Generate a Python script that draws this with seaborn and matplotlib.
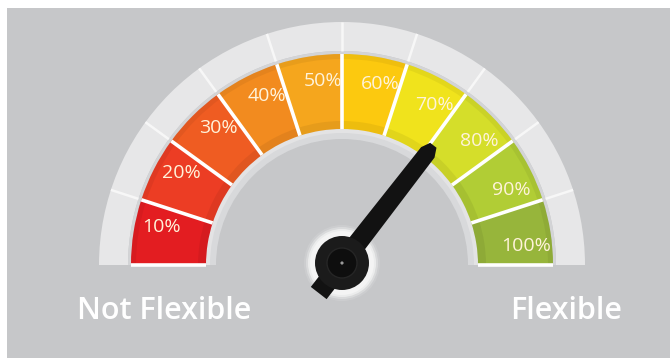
import numpy as np
import matplotlib
matplotlib.use("Agg")
import matplotlib.pyplot as plt
from matplotlib.patches import Wedge, Rectangle, Circle, Polygon
import seaborn as sns

# ---- data ----
categories = ["10%", "20%", "30%", "40%", "50%", "60%", "70%", "80%", "90%", "100%"]
segment_colors = ["#e31d21", "#ec3d24", "#ef5c22", "#f28b1f", "#f5a61d",
                  "#fcc90f", "#f0e31c", "#d5de2a", "#b1cd35", "#97b53b"]
needle_value = 71          # percent
left_label = "Not Flexible"
right_label = "Flexible"

sns.set_theme(style="white")
plt.rcParams['font.family'] = ['Open Sans', 'DejaVu Sans']

W, H = 670, 358
fig = plt.figure(figsize=(W / 100, H / 100), dpi=100)
fig.patch.set_facecolor("white")
ax = fig.add_axes([0, 0, 1, 1])
ax.set_xlim(0, W)
ax.set_ylim(0, H)
ax.axis("off")

# background panel
ax.add_patch(Rectangle((7, 0), W - 7, H - 8, facecolor="#c6c7c9", edgecolor="none", zorder=0))

cx, cy = 342, H - 265
R_out, R_ring_in = 243, 214
R_band_out, R_band_in = 211, 136
R_rim_in = 126

n = len(categories)
step = 180.0 / n

# outer ring
ax.add_patch(Wedge((cx, cy), R_out, 0, 180, width=R_out - R_ring_in,
                   facecolor="#e7e7e8", edgecolor="none", zorder=1))
ax.add_patch(Wedge((cx, cy), R_ring_in, 0, 180, width=R_ring_in - R_band_out,
                   facecolor="#d3d4d6", edgecolor="none", zorder=1))
# inner rim
ax.add_patch(Wedge((cx, cy), R_band_in + 1, 0, 180, width=R_band_in + 1 - R_rim_in,
                   facecolor="#d8d9db", edgecolor="none", zorder=1))
ax.add_patch(Wedge((cx, cy), R_band_in + 1, 0, 180, width=5,
                   facecolor="#e3e3e4", edgecolor="none", zorder=1))

# coloured segments: index 0 on the left (180°) going clockwise
for i, (lab, col) in enumerate(zip(categories, segment_colors)):
    t2 = 180 - i * step
    t1 = t2 - step
    ax.add_patch(Wedge((cx, cy), R_band_out, t1, t2, width=R_band_out - R_band_in,
                       facecolor=col, edgecolor="none", zorder=2))
    # subtle shading near the inner and outer edges
    ax.add_patch(Wedge((cx, cy), R_band_in + 8, t1, t2, width=8,
                       facecolor="black", alpha=0.06, edgecolor="none", zorder=2.1))
    ax.add_patch(Wedge((cx, cy), R_band_out, t1, t2, width=5,
                       facecolor="black", alpha=0.05, edgecolor="none", zorder=2.1))
    ang = np.deg2rad((t1 + t2) / 2 - 3)
    r_lab = 185
    ax.text(cx + r_lab * np.cos(ang), cy + r_lab * np.sin(ang), lab,
            ha="center", va="center", fontsize=14, color="#fff3da", zorder=4)

# separators
for k in range(n + 1):
    a = np.deg2rad(k * step)
    ca, sa = np.cos(a), np.sin(a)
    ax.plot([cx + R_band_in * ca, cx + R_band_out * ca],
            [cy + R_band_in * sa, cy + R_band_out * sa],
            color="white", lw=2.6, solid_capstyle="butt", zorder=3)
    if 0 < k < n:
        ax.plot([cx + R_ring_in * ca, cx + R_out * ca],
                [cy + R_ring_in * sa, cy + R_out * sa],
                color="#f7f7f7", lw=1.8, solid_capstyle="butt", zorder=3)

# needle
hx, hy = cx, cy + 2
theta = np.deg2rad(180 - needle_value / 100 * 180)
u = np.array([np.cos(theta), np.sin(theta)])
v = np.array([-np.sin(theta), np.cos(theta)])
shape = [(-38, -10), (0, -10), (140, -8.5), (149, -4), (149, 4), (140, 8.5), (0, 10), (-38, 10)]
pts = [(hx + a * u[0] + b * v[0], hy + a * u[1] + b * v[1]) for a, b in shape]

# hub halo
for r, al in [(38, 0.15), (36, 0.35), (34, 0.7), (32, 1.0)]:
    ax.add_patch(Circle((hx, hy), r, facecolor="#f4f4f4", alpha=al, edgecolor="none", zorder=5))
ax.add_patch(Polygon(pts, closed=True, facecolor="#121212", edgecolor="none", zorder=6))
ax.add_patch(Circle((hx, hy), 27, facecolor="#1b1b1b", edgecolor="none", zorder=7))
ax.add_patch(Circle((hx, hy), 15, facecolor="#0e0e0e", edgecolor="#262626", lw=1, zorder=8))
ax.add_patch(Circle((hx, hy), 1.6, facecolor="#9a9a9a", edgecolor="none", zorder=9))

# end labels
ax.text(164, H - 311, left_label, ha="center", va="center", fontsize=22,
        fontweight="semibold", color="white", zorder=4)
ax.text(566, H - 311, right_label, ha="center", va="center", fontsize=22,
        fontweight="semibold", color="white", zorder=4)

fig.savefig("out.png", dpi=100, facecolor=fig.get_facecolor())
